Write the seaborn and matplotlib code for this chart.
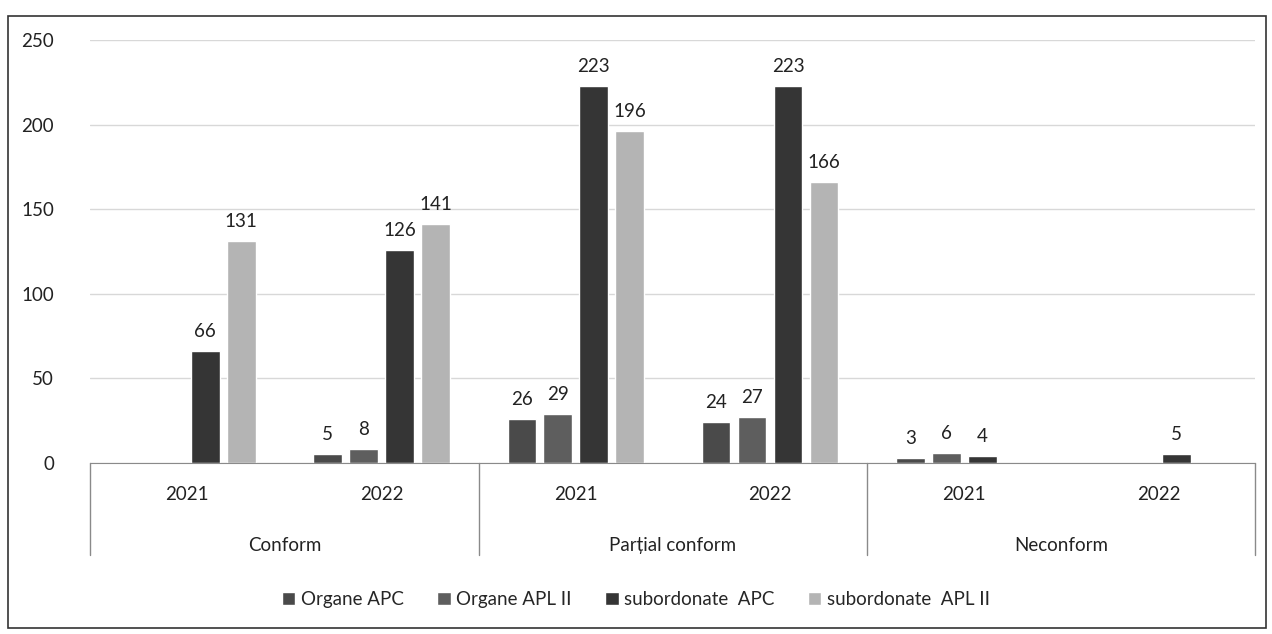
import pandas as pd
import matplotlib.pyplot as plt
import seaborn as sns
from matplotlib.patches import Rectangle

# Data
groups = ["Conform", "Parțial conform", "Neconform"]
years = ["2021", "2022"]
series = ["Organe APC", "Organe APL II", "subordonate  APC", "subordonate  APL II"]
organe_apc = [0, 5, 26, 24, 3, 0]
organe_apl = [0, 8, 29, 27, 6, 0]
sub_apc = [66, 126, 223, 223, 4, 5]
sub_apl = [131, 141, 196, 166, 0, 0]

colors = ["#4a4a4a", "#5e5e5e", "#353535", "#b4b4b4"]

# long table for seaborn
slots = [g + " " + y for g in groups for y in years]
rows = []
for name, vals in zip(series, [organe_apc, organe_apl, sub_apc, sub_apl]):
    for s, v in zip(slots, vals):
        rows.append({"slot": s, "serie": name, "val": v})
df = pd.DataFrame(rows)

sns.set_style("white")
plt.rcParams["font.family"] = ["Lato", "DejaVu Sans"]
fs = 13.5

fig = plt.figure(figsize=(12.72, 6.34), dpi=100)
ax = fig.add_axes([0.071, 0.27, 0.916, 0.667])

sns.barplot(data=df, x="slot", y="val", hue="serie", order=slots,
            hue_order=series, palette=colors, width=0.74, gap=0.2,
            saturation=1, ax=ax, legend=True)

for c in ax.containers:
    labs = [str(int(v)) if v > 0 else "" for v in c.datavalues]
    ax.bar_label(c, labels=labs, padding=8, fontsize=fs, color="#222222")

ax.set_ylim(0, 250)
ax.set_xlim(-0.5, len(slots) - 0.5)
ax.set_yticks(range(0, 251, 50))
ax.tick_params(axis="y", labelsize=fs, colors="#222222", length=0, pad=26)
ax.yaxis.grid(True, color="#d8d8d8", linewidth=1)
ax.set_axisbelow(True)
ax.set_xlabel("")
ax.set_ylabel("")

# year labels as ticks, group names below
ax.set_xticks(range(len(slots)))
ax.set_xticklabels(years * len(groups), fontsize=fs, color="#222222")
ax.tick_params(axis="x", length=0, pad=17)
for i, g in enumerate(groups):
    ax.text(2 * i + 0.5, -0.196, g, transform=ax.get_xaxis_transform(),
            ha="center", va="center", fontsize=fs, color="#222222")

for x in [-0.5, 1.5, 3.5, 5.5]:
    ax.plot([x, x], [0, -0.218], transform=ax.get_xaxis_transform(),
            color="#8a8a8a", linewidth=1, clip_on=False)

for side in ["top", "right", "left"]:
    ax.spines[side].set_visible(False)
ax.spines["bottom"].set_color("#8a8a8a")

handles, labels = ax.get_legend_handles_labels()
ax.get_legend().remove()
fig.legend(handles, labels, loc="center", bbox_to_anchor=(0.5, 0.054),
           ncol=4, frameon=False, fontsize=fs, handlelength=0.7,
           handleheight=0.7, handletextpad=0.3, columnspacing=1.8)

# chart border
fig.patches.append(Rectangle((0.006, 0.01), 0.989, 0.965,
                             transform=fig.transFigure, fill=False,
                             edgecolor="#333333", linewidth=1.2))

fig.savefig("out.png", dpi=100)
